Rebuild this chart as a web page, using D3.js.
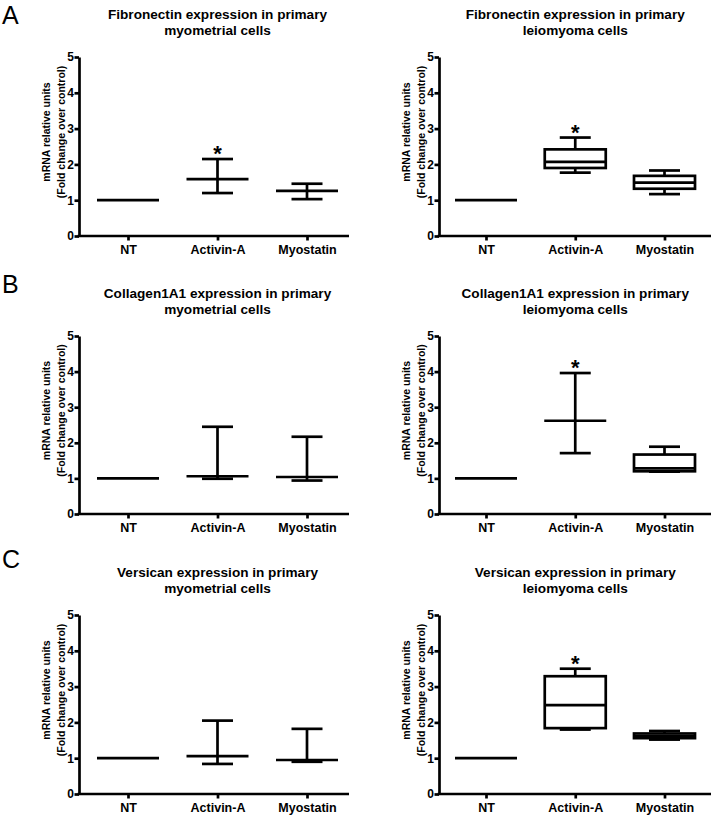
<!DOCTYPE html>
<html>
<head>
<meta charset="utf-8">
<script src="https://cdn.jsdelivr.net/npm/d3@7"></script>
<style>
  html, body { margin: 0; padding: 0; background: #fff; }
  svg { display: block; }
  text { font-family: "Liberation Sans", Arial, sans-serif; fill: #000; }
</style>
</head>
<body>
<svg id="chart" width="714" height="818"></svg>
<script>
// ---------------- data ----------------
const categories = ["NT", "Activin-A", "Myostatin"];
const yTicks = [0, 1, 2, 3, 4, 5];
const yLabelLines = ["mRNA relative units", "(Fold change over control)"];
const panelLetters = ["A", "B", "C"];

const titles = [
  ["Fibronectin expression in primary", "myometrial cells"],
  ["Fibronectin expression in primary", "leiomyoma cells"],
  ["Collagen1A1 expression in primary", "myometrial cells"],
  ["Collagen1A1 expression in primary", "leiomyoma cells"],
  ["Versican expression in primary", "myometrial cells"],
  ["Versican expression in primary", "leiomyoma cells"]
];

// each entry: [min, q1, median, q3, max] per category (NT, Activin-A, Myostatin)
const fibronectinMyometrial = [[1, 1, 1, 1, 1], [1.20, 1.59, 1.59, 1.59, 2.15], [1.03, 1.26, 1.26, 1.26, 1.46]];
const fibronectinLeiomyoma  = [[1, 1, 1, 1, 1], [1.77, 1.90, 2.07, 2.42, 2.75], [1.17, 1.32, 1.49, 1.68, 1.83]];
const collagenMyometrial    = [[1, 1, 1, 1, 1], [0.99, 1.06, 1.06, 1.06, 2.45], [0.94, 1.04, 1.04, 1.04, 2.17]];
const collagenLeiomyoma     = [[1, 1, 1, 1, 1], [1.71, 2.62, 2.62, 2.62, 3.96], [1.19, 1.20, 1.28, 1.67, 1.89]];
const versicanMyometrial    = [[1, 1, 1, 1, 1], [0.84, 1.06, 1.06, 1.06, 2.05], [0.90, 0.95, 0.95, 0.95, 1.82]];
const versicanLeiomyoma     = [[1, 1, 1, 1, 1], [1.80, 1.84, 2.48, 3.29, 3.50], [1.52, 1.56, 1.62, 1.69, 1.76]];

// significance markers (asterisk) per category
const sigFibronectinMyometrial = [false, true, false];
const sigFibronectinLeiomyoma  = [false, true, false];
const sigCollagenMyometrial    = [false, false, false];
const sigCollagenLeiomyoma     = [false, true, false];
const sigVersicanMyometrial    = [false, false, false];
const sigVersicanLeiomyoma     = [false, true, false];

const panelData = [fibronectinMyometrial, fibronectinLeiomyoma, collagenMyometrial,
                   collagenLeiomyoma, versicanMyometrial, versicanLeiomyoma];
const panelSig = [sigFibronectinMyometrial, sigFibronectinLeiomyoma, sigCollagenMyometrial,
                  sigCollagenLeiomyoma, sigVersicanMyometrial, sigVersicanLeiomyoma];

// ---------------- layout ----------------
const rowTop = [57, 336, 615];       // y pixel of value 5
const rowBottom = [236, 514, 794];   // y pixel of value 0
const letterBaseline = [23.5, 293, 568];
const colAxisX = [79, 439];
const colAxisEnd = [349, 711];
const colCatRange = [[128, 307], [486, 664.5]];

const FONT = '"Liberation Sans", Arial, sans-serif';
const BOX_W = 61, CAP_W = 31, SW = 2.7;

const svg = d3.select("#chart");

// panel letters
panelLetters.forEach((L, r) => {
  svg.append("text").attr("x", 2).attr("y", letterBaseline[r])
    .attr("font-size", 25).attr("font-weight", "normal").text(L);
});

panelData.forEach((data, i) => {
  const r = Math.floor(i / 2), c = i % 2;
  const ax = colAxisX[c];
  const y = d3.scaleLinear().domain([0, 5]).range([rowBottom[r], rowTop[r]]);
  const x = d3.scalePoint().domain(categories).range(colCatRange[c]);
  const g = svg.append("g");

  // title
  const tx = x(categories[1]);
  titles[i].forEach((line, k) => {
    g.append("text").attr("x", tx).attr("y", rowTop[r] - 38 + k * 15.5)
      .attr("text-anchor", "middle").attr("font-size", 13.6).attr("font-weight", "bold")
      .text(line);
  });

  // y axis
  const yAxis = d3.axisLeft(y).tickValues(yTicks).tickFormat(d3.format("d"))
    .tickSize(4.5).tickSizeOuter(0).tickPadding(0.5);
  const ya = g.append("g").attr("transform", `translate(${ax},0)`).call(yAxis);
  ya.select(".domain").attr("stroke-width", SW);
  ya.selectAll(".tick line").attr("stroke-width", SW);
  ya.selectAll(".tick text").attr("font-size", 12).attr("font-weight", "bold")
    .attr("font-family", FONT).attr("fill", "#000");

  // x axis
  const xAxis = d3.axisBottom(x).tickSize(4.5).tickSizeOuter(0);
  const xa = g.append("g").attr("transform", `translate(0,${rowBottom[r]})`).call(xAxis);
  xa.select(".domain").remove();
  xa.append("line").attr("x1", ax - SW / 2).attr("x2", colAxisEnd[c]).attr("y1", 0).attr("y2", 0)
    .attr("stroke", "#000").attr("stroke-width", SW);
  xa.selectAll(".tick line").attr("stroke-width", SW);
  xa.selectAll(".tick text").attr("y", 17.5).attr("dy", 0).attr("font-size", 12.5)
    .attr("font-weight", "bold").attr("font-family", FONT).attr("fill", "#000");

  // y label
  const cy = (rowTop[r] + rowBottom[r]) / 2 - 14.5;
  yLabelLines.forEach((line, k) => {
    g.append("text")
      .attr("transform", `translate(${ax - 29 + k * 15},${cy}) rotate(-90)`)
      .attr("text-anchor", "middle").attr("font-size", 10.5).attr("font-weight", "bold")
      .text(line);
  });

  // boxes / whiskers
  data.forEach((v, j) => {
    const [mn, q1, md, q3, mx] = v;
    const cx = x(categories[j]);
    const bg = g.append("g").attr("stroke", "#000").attr("stroke-width", SW).attr("fill", "none");
    if (mx > mn) {
      bg.append("line").attr("x1", cx).attr("x2", cx).attr("y1", y(mn)).attr("y2", y(mx));
      [mn, mx].forEach(val => {
        bg.append("line").attr("x1", cx - CAP_W / 2).attr("x2", cx + CAP_W / 2)
          .attr("y1", y(val)).attr("y2", y(val));
      });
    }
    if (q3 > q1) {
      bg.append("rect").attr("x", cx - BOX_W / 2).attr("width", BOX_W)
        .attr("y", y(q3)).attr("height", y(q1) - y(q3)).attr("fill", "#fff");
    }
    bg.append("line").attr("x1", cx - BOX_W / 2 - 0.5).attr("x2", cx + BOX_W / 2 + 0.5)
      .attr("y1", y(md)).attr("y2", y(md));

    if (panelSig[i][j]) {
      g.append("text").attr("x", cx).attr("y", y(mx) - 10 + 12)
        .attr("text-anchor", "middle").attr("font-size", 22).attr("font-weight", "bold")
        .text("*");
    }
  });
});
</script>
</body>
</html>
